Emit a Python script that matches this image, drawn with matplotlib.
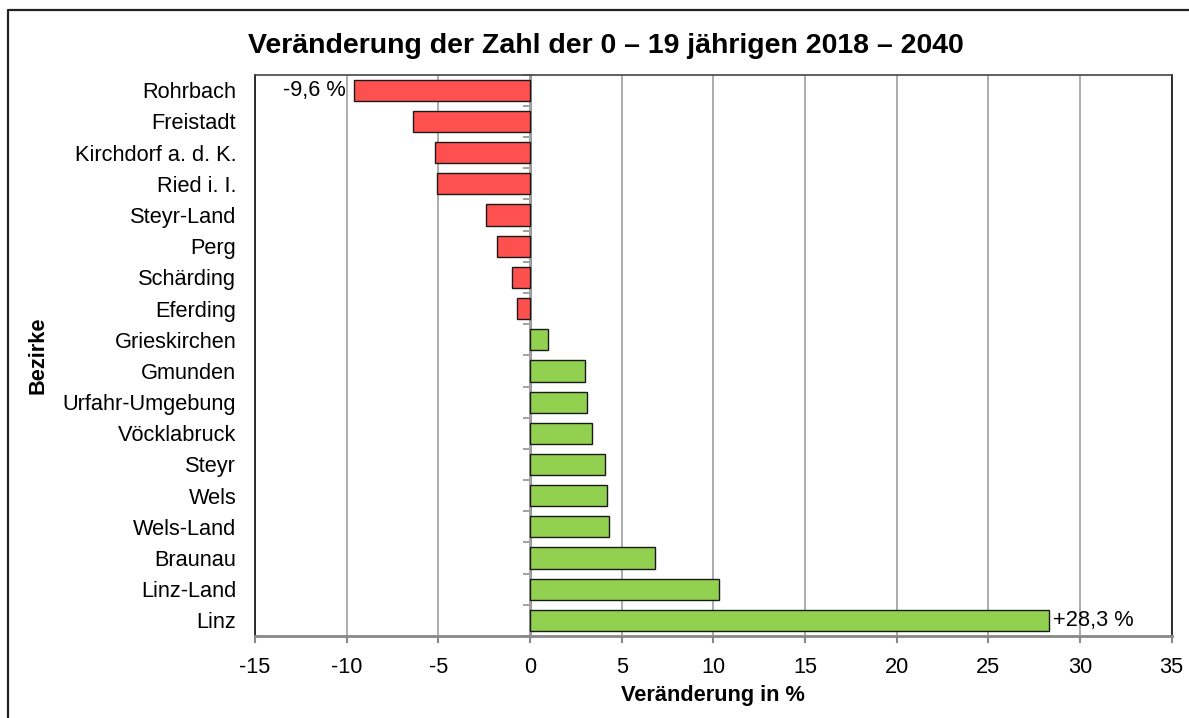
import matplotlib
matplotlib.use("Agg")
import matplotlib.pyplot as plt
from matplotlib.lines import Line2D
import numpy as np

plt.rcParams['font.family'] = ['Liberation Sans', 'DejaVu Sans']

bezirke = ["Rohrbach", "Freistadt", "Kirchdorf a. d. K.", "Ried i. I.", "Steyr-Land",
           "Perg", "Schärding", "Eferding", "Grieskirchen", "Gmunden",
           "Urfahr-Umgebung", "Vöcklabruck", "Steyr", "Wels", "Wels-Land",
           "Braunau", "Linz-Land", "Linz"]
veraenderung = [-9.6, -6.4, -5.2, -5.1, -2.4, -1.8, -1.0, -0.7, 1.0, 3.0,
                3.1, 3.4, 4.1, 4.2, 4.3, 6.8, 10.3, 28.3]
x_ticks = [-15, -10, -5, 0, 5, 10, 15, 20, 25, 30, 35]
title = "Veränderung der Zahl der 0 – 19 jährigen 2018 – 2040"
x_label = "Veränderung in %"
y_label = "Bezirke"

W, H = 1189, 718
fig = plt.figure(figsize=(W / 100, H / 100), dpi=100)
ax = fig.add_axes([255 / W, 1 - 636 / H, (1171.7 - 255) / W, (636 - 74.7) / H])

n = len(bezirke)
ypos = np.arange(n)
red = "#FF5050"
green = "#92D050"
colors = [red if v < 0 else green for v in veraenderung]
ax.barh(ypos, veraenderung, height=0.68, color=colors, edgecolor="#1a1a1a",
        linewidth=1.0, zorder=3)

ax.set_xlim(-15, 35)
ax.set_ylim(n - 0.5, -0.5)
ax.set_xticks(x_ticks)
ax.set_xticklabels([str(t) for t in x_ticks], fontsize=15.7)
ax.set_yticks(ypos)
ax.set_yticklabels(bezirke, fontsize=15.7)
ax.tick_params(axis='y', length=0, pad=13.5)
ax.tick_params(axis='x', length=5, width=1.5, color="#888888", pad=10)
ax.grid(axis='x', color="#a6a6a6", linewidth=1.3, zorder=0)

for s in ['left', 'right']:
    ax.spines[s].set_color("#111111")
    ax.spines[s].set_linewidth(1.2)
ax.spines['top'].set_color("#444444")
ax.spines['top'].set_linewidth(1.2)
ax.spines['bottom'].set_color("#888888")
ax.spines['bottom'].set_linewidth(2)

# zero axis with category boundary ticks
sec = ax.secondary_yaxis(0.3)
sec.spines['left'].set_color("#888888")
sec.spines['left'].set_linewidth(2)
sec.set_yticks(np.arange(-0.5, n, 1.0))
sec.set_yticklabels([])
sec.tick_params(axis='y', length=5, width=1.3, color="#999999")

# value labels
ax.text(veraenderung[0] - 0.45, 0, "-9,6 %", ha='right', va='center', fontsize=15.7)
ax.text(veraenderung[-1] + 0.2, n - 1, "+28,3 %", ha='left', va='center', fontsize=15.7)

ax.set_xlabel(x_label, fontsize=15.7, fontweight='bold', labelpad=5)
fig.text(38 / W, 1 - 355 / H, y_label, rotation=90, fontsize=15.7, fontweight='bold',
         ha='center', va='center')
fig.text(606 / W, 1 - 53 / H, title, fontsize=20.5, fontweight='bold',
         ha='center', va='baseline')

# outer chart border (only top and left edges fall inside the image)
fig.add_artist(Line2D([8 / W, 8 / W, 1.05], [-0.05, 1 - 10 / H, 1 - 10 / H],
                      transform=fig.transFigure, color="#222222", linewidth=1.6))

fig.savefig("out.png", dpi=100)
